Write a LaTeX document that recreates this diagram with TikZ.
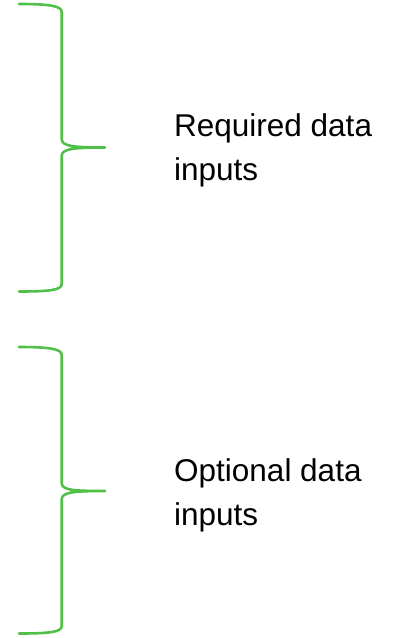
\documentclass[tikz,border=0pt]{standalone}
\usepackage{fontspec}
\setmainfont{Liberation Sans}
\definecolor{bracegreen}{RGB}{80,192,72}
\begin{document}
\begin{tikzpicture}[x=1pt,y=-1pt,
  bracestyle/.style={draw=bracegreen,line width=2.6pt,line cap=round,line join=round},
  labelstyle/.style={anchor=base west,align=left,inner sep=0pt,font=\fontsize{31.5}{44}\selectfont}]
\useasboundingbox (0,0) rectangle (394,638);
% Brace 1
\draw[bracestyle] (19,4) .. controls (50,4) and (61.7,6) .. (61.7,12)
  -- (61.7,139) .. controls (61.7,146) and (72,147.5) .. (105,147.5)
  (105,147.5) .. controls (72,147.5) and (61.7,149) .. (61.7,156)
  -- (61.7,284) .. controls (61.7,290) and (50,291.5) .. (19,291.5);
% Brace 2
\draw[bracestyle] (19,347) .. controls (50,347) and (61.7,349) .. (61.7,355)
  -- (61.7,483) .. controls (61.7,490) and (72,491) .. (105,491)
  (105,491) .. controls (72,491) and (61.7,492.5) .. (61.7,499.5)
  -- (61.7,626) .. controls (61.7,632) and (50,633.5) .. (19,633.5);
\node[labelstyle] (req) at (174,180) {Required data\\inputs};
\node[labelstyle] (opt) at (174,525) {Optional data\\inputs};
\end{tikzpicture}
\end{document}
